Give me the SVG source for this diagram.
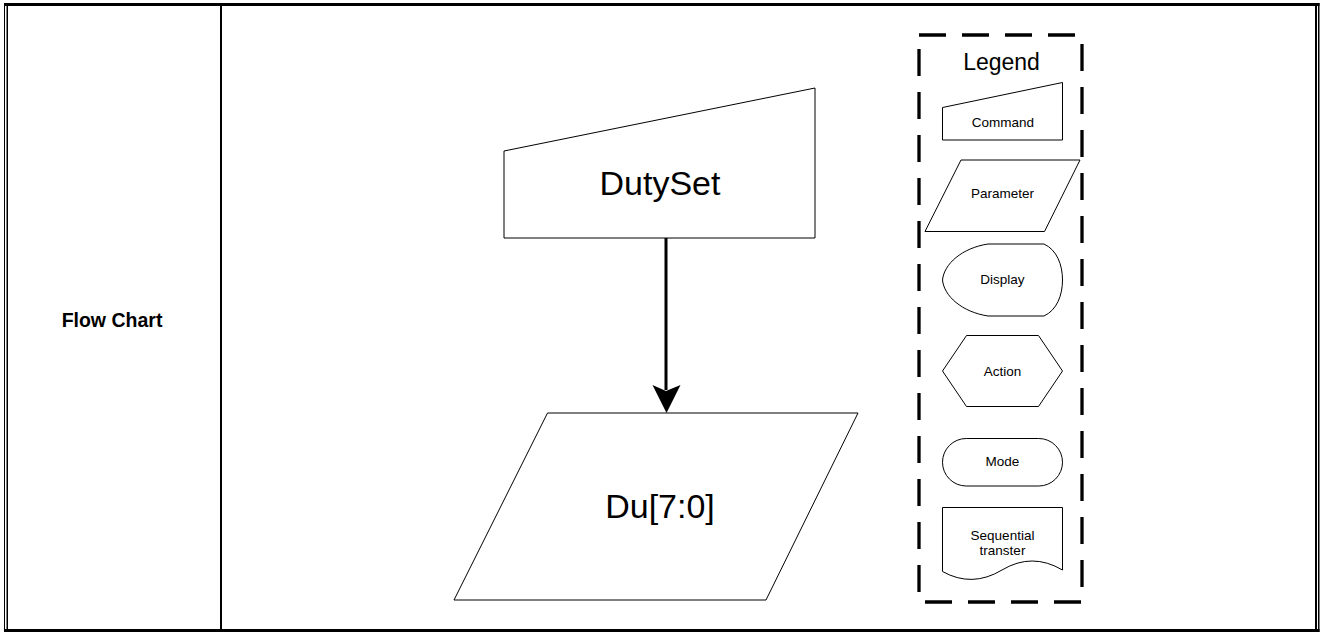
<svg xmlns="http://www.w3.org/2000/svg" width="1323" height="632" viewBox="0 0 1323 632">
<style>
.frame{fill:#000}
.shape{fill:#fff;stroke:#000;stroke-width:1}
.big{font-family:"Liberation Sans",Arial,sans-serif;font-size:34px;fill:#000;text-anchor:middle}
.small{font-family:"Liberation Sans",Arial,sans-serif;font-size:13.5px;fill:#000;text-anchor:middle}
.legendTitle{font-family:"Liberation Sans",Arial,sans-serif;font-size:23px;fill:#000;text-anchor:middle}
.label{font-family:"Liberation Sans",Arial,sans-serif;font-size:19.5px;font-weight:bold;fill:#000;text-anchor:middle}
</style>
<rect width="1323" height="632" fill="#fff"/>
<g id="table">
<rect class="frame" x="4" y="3" width="1315.5" height="3"/>
<rect class="frame" x="4" y="629" width="1315.5" height="3"/>
<rect class="frame" x="4" y="3" width="1" height="629"/>
<rect class="frame" x="6.5" y="6" width="1.5" height="623"/>
<rect class="frame" x="1315" y="6" width="2" height="623"/>
<rect class="frame" x="1318" y="3" width="1.5" height="629"/>
<rect class="frame" x="220" y="6" width="2" height="623"/>
<text class="label" x="112" y="326.5">Flow Chart</text>
</g>
<g id="connectors">
<line x1="666" y1="238" x2="666" y2="390" stroke="#000" stroke-width="3"/>
<polygon points="652.5,385 666,391 680.5,385 666.5,413" fill="#000"/>
</g>
<g id="dutyset">
<polygon class="shape" points="504,151 815,88 815,238 504,238"/>
<text class="big" x="660" y="195">DutySet</text>
</g>
<g id="du70">
<polygon class="shape" points="547.5,413 858,413 766,600 454,600"/>
<text class="big" x="660" y="518">Du[7:0]</text>
</g>
<g id="legend">
<rect x="919" y="35" width="163" height="567" fill="none" stroke="#000" stroke-width="3.3" stroke-dasharray="27,16"/>
<text class="legendTitle" x="1001.5" y="70">Legend</text>
<g id="legend-command">
<polygon class="shape" points="942.5,107.5 1062.5,82.5 1062.5,140 942.5,140"/>
<text class="small" x="1003" y="127.3">Command</text>
</g>
<g id="legend-parameter">
<polygon class="shape" points="961,160 1080,160 1044.5,231.5 925,231.5"/>
<text class="small" x="1002.5" y="198.3">Parameter</text>
</g>
<g id="legend-display">
<path class="shape" d="M988,244 L1044,244 C1057,250 1062.5,265 1062.5,280 C1062.5,295 1057,310 1044,316 L988,316 C962,312 944,296 942.5,280 C944,264 962,248 988,244 Z"/>
<text class="small" x="1002.5" y="284">Display</text>
</g>
<g id="legend-action">
<polygon class="shape" points="966.5,335.5 1038.5,335.5 1062.5,371 1038.5,406.5 966.5,406.5 942.5,371"/>
<text class="small" x="1002.5" y="375.5">Action</text>
</g>
<g id="legend-mode">
<rect class="shape" x="942.5" y="438.5" width="120" height="47.5" rx="23.75" ry="23.75"/>
<text class="small" x="1002.5" y="466">Mode</text>
</g>
<g id="legend-seq">
<path class="shape" d="M942.5,507.5 L1062.5,507.5 L1062.5,570 Q1032,552 1002,570 Q972,588 942.5,571.5 Z"/>
<text class="small" x="1002.5" y="540">Sequential</text>
<text class="small" x="1002.5" y="554.5">transter</text>
</g>
</g>
</svg>
